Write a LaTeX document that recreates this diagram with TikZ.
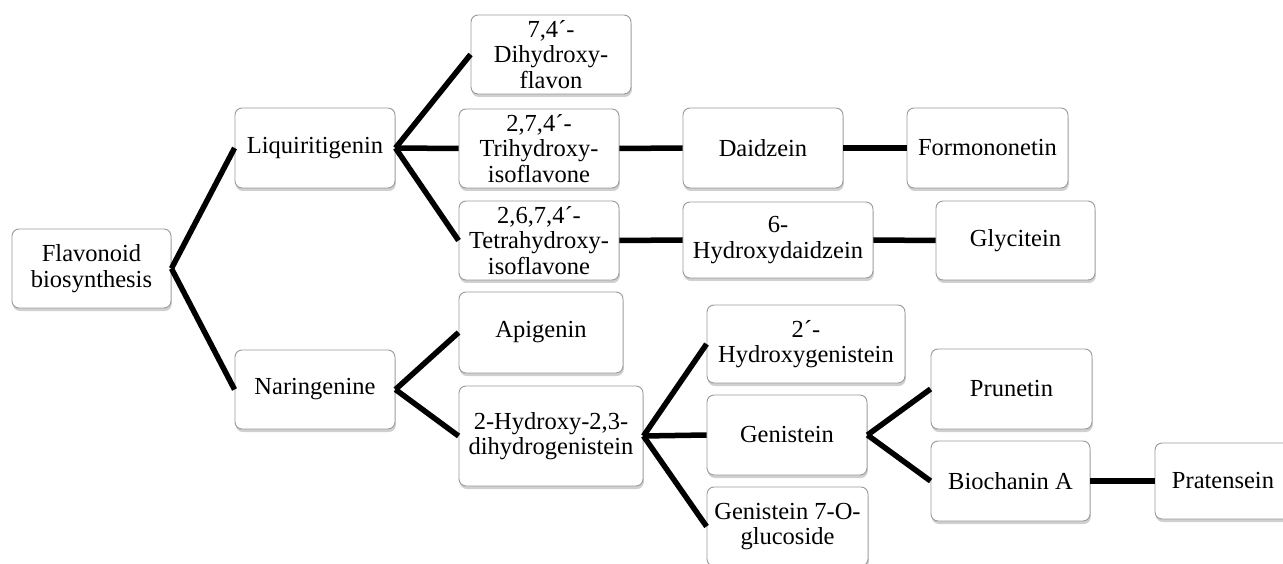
\documentclass[tikz,border=0pt]{standalone}
\usepackage{fontspec}
\setmainfont{Liberation Serif}
\usepackage{tikz}
\usetikzlibrary{shadows}
\tikzstyle{box}=[rectangle, rounded corners=7pt, draw=black!40, line width=0.9pt, fill=white, inner sep=0pt, align=center, anchor=center, font=\fontsize{24.5}{25.5}\selectfont, drop shadow={shadow xshift=0.8pt, shadow yshift=-3pt, opacity=0.3, fill=black!60}]
\tikzstyle{link}=[line width=5.5pt, black]

\begin{document}
\begin{tikzpicture}[x=1pt, y=-1pt]
	\clip (0,0) rectangle (1283,564);
	\fill[white] (0,0) rectangle (1283,564);

	% level 1
	\node[box, minimum width=159pt, minimum height=79pt](flav) at (91.5,268.5){Flavonoid\\biosynthesis};

	% level 2
	\node[box, minimum width=160pt, minimum height=80pt](liq) at (315,148){Liquiritigenin};
	\node[box, minimum width=160pt, minimum height=79pt](nar) at (315,389.5){Naringenine};

	% level 3
	\node[box, minimum width=160pt, minimum height=79pt](dhf) at (551,54.5){7,4´-\\Dihydroxy-\\flavon};
	\node[box, minimum width=160pt, minimum height=79pt](thi) at (539,148.5){2,7,4´-\\Trihydroxy-\\isoflavone};
	\node[box, minimum width=160pt, minimum height=79pt](tthi) at (539,240.5){2,6,7,4´-\\Tetrahydroxy-\\isoflavone};
	\node[box, minimum width=164pt, minimum height=81pt](api) at (541,332.5){Apigenin};
	\node[box, minimum width=184pt, minimum height=100pt](hdg) at (551,436){2-Hydroxy-2,3-\\dihydrogenistein};

	% level 4
	\node[box, minimum width=160pt, minimum height=80pt](daid) at (763,148){Daidzein};
	\node[box, minimum width=190pt, minimum height=76pt](hdai) at (778,240){6-\\Hydroxydaidzein};
	\node[box, minimum width=198pt, minimum height=78pt](hgen) at (806,344){2´-\\Hydroxygenistein};
	\node[box, minimum width=160pt, minimum height=80pt](gen) at (787,435){Genistein};
	\node[box, minimum width=161pt, minimum height=79pt](glu) at (787.5,526.5){Genistein 7-O-\\glucoside};

	% level 5
	\node[box, minimum width=161pt, minimum height=80pt](form) at (987.5,148){Formononetin};
	\node[box, minimum width=159pt, minimum height=79pt](glyc) at (1015.5,240.5){Glycitein};
	\node[box, minimum width=161pt, minimum height=80pt](prun) at (1011.5,389){Prunetin};
	\node[box, minimum width=159pt, minimum height=80pt](bioa) at (1010.5,481){Biochanin A};

	% level 6
	\node[box, minimum width=136pt, minimum height=76pt](prat) at (1223,481){Pratensein};

	\draw[link] (flav.east) -- (liq.west);
	\draw[link] (flav.east) -- (nar.west);
	\draw[link] (liq.east) -- (dhf.west);
	\draw[link] (liq.east) -- (thi.west);
	\draw[link] (liq.east) -- (tthi.west);
	\draw[link] (thi.east) -- (daid.west);
	\draw[link] (daid.east) -- (form.west);
	\draw[link] (tthi.east) -- (hdai.west);
	\draw[link] (hdai.east) -- (glyc.west);
	\draw[link] (nar.east) -- (api.west);
	\draw[link] (nar.east) -- (hdg.west);
	\draw[link] (hdg.east) -- (hgen.west);
	\draw[link] (hdg.east) -- (gen.west);
	\draw[link] (hdg.east) -- (glu.west);
	\draw[link] (gen.east) -- (prun.west);
	\draw[link] (gen.east) -- (bioa.west);
	\draw[link] (bioa.east) -- (prat.west);

\end{tikzpicture}
\end{document}
